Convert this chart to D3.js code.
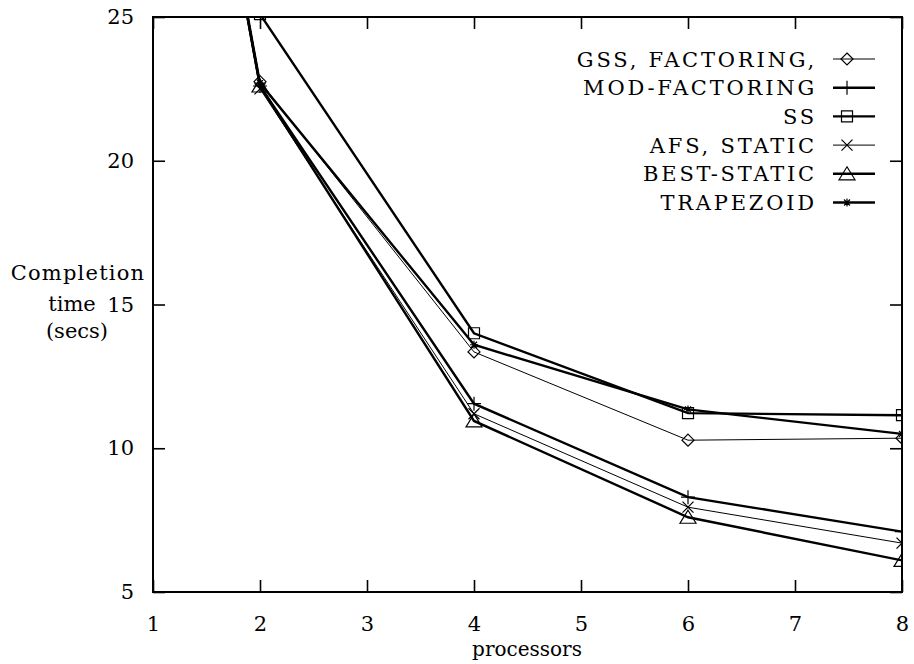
<!DOCTYPE html>
<html><head><meta charset="utf-8">
<script src="https://cdn.jsdelivr.net/npm/d3@7"></script>
<style>body{margin:0;background:#fff}svg{display:block}</style>
</head><body><svg id="c" width="914" height="664"></svg>
<script>
const processors = [1, 2, 4, 6, 8];
const xTicks = [1, 2, 3, 4, 5, 6, 7, 8];
const yTicks = [5, 10, 15, 20, 25];
const seriesNames = ["GSS, FACTORING,", "MOD-FACTORING", "SS", "AFS, STATIC", "BEST-STATIC", "TRAPEZOID"];
const gssValues = [43, 22.75, 13.35, 10.28, 10.35];
const modValues = [43, 22.6, 11.55, 8.3, 7.1];
const ssValues = [50, 25.1, 14.0, 11.22, 11.15];
const afsValues = [43, 22.5, 11.2, 7.95, 6.7];
const bestValues = [43, 22.6, 10.95, 7.6, 6.1];
const trapValues = [43, 22.7, 13.6, 11.35, 10.5];
const allValues = [gssValues, modValues, ssValues, afsValues, bestValues, trapValues];
const markers = ["diamond", "plus", "square", "cross", "triangle", "star"];
const widths = [1, 2.4, 2.4, 1, 2.4, 2.4];

const FONT = "'DejaVu Serif', 'Liberation Serif', 'Times New Roman', serif";
const L = 153, R = 902, T = 17, B = 592;
const x = d3.scaleLinear().domain([1, 8]).range([L, R]);
const y = d3.scaleLinear().domain([5, 25]).range([B, T]);
const svg = d3.select("#c");

svg.append("defs").append("clipPath").attr("id", "clip")
  .append("rect").attr("x", L).attr("y", T).attr("width", R - L).attr("height", B - T);

const fs = 21;
const axB = d3.axisBottom(x).tickValues(xTicks).tickSize(-12).tickPadding(24).tickFormat(d3.format("d"));
const axT = d3.axisTop(x).tickValues(xTicks).tickSize(-12).tickFormat("");
const axL = d3.axisLeft(y).tickValues(yTicks).tickSize(-12).tickPadding(19).tickFormat(d3.format("d"));
const axR = d3.axisRight(y).tickValues(yTicks).tickSize(-12).tickFormat("");
function style(g) {
  g.attr("font-family", FONT).attr("font-size", fs);
  g.select(".domain").remove();
  g.selectAll("line").attr("stroke", "#000").attr("stroke-width", 1.6);
  g.selectAll("text").attr("fill", "#000");
}
svg.append("g").attr("transform", `translate(0,${B})`).call(axB).call(style);
svg.append("g").attr("transform", `translate(0,${T})`).call(axT).call(style);
svg.append("g").attr("transform", `translate(${L},0)`).call(axL).call(style);
svg.append("g").attr("transform", `translate(${R},0)`).call(axR).call(style);
svg.append("rect").attr("x", L).attr("y", T).attr("width", R - L).attr("height", B - T)
  .attr("fill", "none").attr("stroke", "#000").attr("stroke-width", 2);

const txt = svg.append("g").attr("font-family", FONT).attr("font-size", fs).attr("fill", "#000");
txt.append("text").attr("x", 527).attr("y", 656).attr("text-anchor", "middle").attr("font-size", 20).text("processors");
txt.append("text").attr("x", 78).attr("y", 280).attr("text-anchor", "middle").attr("letter-spacing", 1.2).text("Completion");
txt.append("text").attr("x", 72).attr("y", 311).attr("text-anchor", "middle").text("time");
txt.append("text").attr("x", 77).attr("y", 338).attr("text-anchor", "middle").text("(secs)");

function marker(g, type, cx, cy) {
  const s = 6;
  let p;
  switch (type) {
    case "diamond": p = `M${cx},${cy - s}L${cx + s},${cy}L${cx},${cy + s}L${cx - s},${cy}Z`; break;
    case "plus": p = `M${cx - 7},${cy}H${cx + 7}M${cx},${cy - 7}V${cy + 7}`; break;
    case "square": p = `M${cx - 5.5},${cy - 5.5}h11v11h-11Z`; break;
    case "cross": p = `M${cx - 5.5},${cy - 5.5}L${cx + 5.5},${cy + 5.5}M${cx - 5.5},${cy + 5.5}L${cx + 5.5},${cy - 5.5}`; break;
    case "triangle": p = `M${cx},${cy - 7}L${cx + 8},${cy + 6}L${cx - 8},${cy + 6}Z`; break;
    case "star": p = `M${cx - 4},${cy}H${cx + 4}M${cx},${cy - 4}V${cy + 4}M${cx - 3},${cy - 3}L${cx + 3},${cy + 3}M${cx - 3},${cy + 3}L${cx + 3},${cy - 3}`; break;
  }
  g.append("path").attr("d", p).attr("fill", "none").attr("stroke", "#000").attr("stroke-width", 1.2);
}

const plot = svg.append("g").attr("clip-path", "url(#clip)");
const line = d3.line().x((d, i) => x(processors[i])).y(d => y(d));
allValues.forEach((vals, k) => {
  plot.append("path").datum(vals).attr("d", line).attr("fill", "none")
    .attr("stroke", "#000").attr("stroke-width", widths[k]).attr("stroke-linejoin", "miter");
  vals.forEach((v, i) => marker(plot, markers[k], x(processors[i]), y(v)));
});

const legY0 = 59, legStep = 28.7;
seriesNames.forEach((name, k) => {
  const yy = legY0 + k * legStep;
  txt.append("text").attr("x", 817).attr("y", yy + 7.5).attr("text-anchor", "end")
    .attr("letter-spacing", 2.8).text(name);
  svg.append("line").attr("x1", 833).attr("x2", 875).attr("y1", yy).attr("y2", yy)
    .attr("stroke", "#000").attr("stroke-width", widths[k]);
  marker(svg, markers[k], 847, yy);
});
</script></body></html>
